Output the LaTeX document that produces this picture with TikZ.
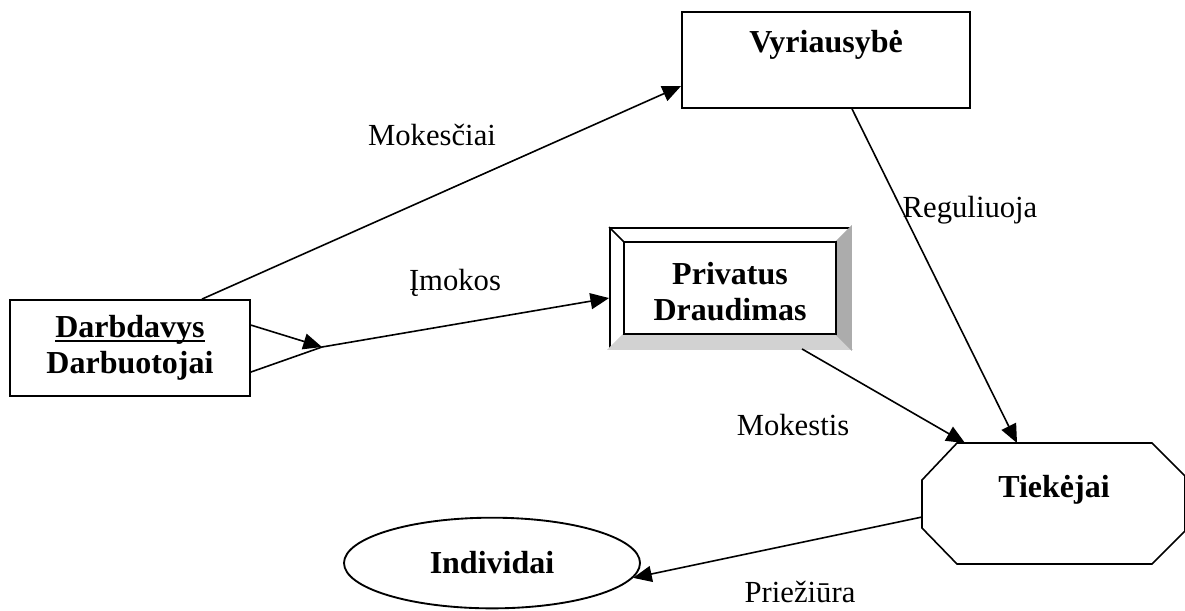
\documentclass[tikz,border=0pt]{standalone}
\usepackage{fontspec}
\setmainfont{Liberation Serif}
\usetikzlibrary{arrows.meta,shapes.geometric}
\newcommand{\ulin}[1]{\setbox0\hbox{#1}\rlap{\rule[-1.7pt]{\wd0}{.8pt}}\box0}
\tikzset{
	box/.style={draw, line width=.7pt, fill=white, align=center, inner sep=3pt,
		font=\fontsize{12}{13.5}\selectfont\bfseries},
	lbl/.style={font=\fontsize{11.5}{13.5}\selectfont, inner sep=0pt},
	arr/.style={line width=.6pt, -{Triangle[length=7pt,width=6pt]}}
}
\begin{document}
\begin{tikzpicture}[x=.375pt,y=-.375pt]
	\useasboundingbox (0,0) rectangle (1185,610);
	% boxes
	\node[box, minimum width=90pt, minimum height=36pt] (emp) at (130,348) {\ulin{Darbdavys}\\Darbuotojai};
	\node[box, minimum width=108pt, minimum height=36pt, text height=12pt, text depth=18pt] (gov) at (826,60) {Vyriausybė};
	\node[box, minimum width=90pt, minimum height=45pt] (ins) at (730,288) {};
	\fill[gray!35, draw, line width=.6pt] (ins.south west) -- ([shift={(5.6pt,5.6pt)}]ins.south west)
		-- ([shift={(-5.6pt,5.6pt)}]ins.south east) -- (ins.south east) -- cycle;
	\fill[gray!65, draw, line width=.6pt] (ins.south east) -- (ins.north east)
		-- ([shift={(-5.6pt,-5.6pt)}]ins.north east) -- ([shift={(-5.6pt,5.6pt)}]ins.south east) -- cycle;
	\draw[line width=.6pt] ([shift={(5.6pt,5.6pt)}]ins.south west) rectangle ([shift={(-5.6pt,-5.6pt)}]ins.north east);
	\draw[line width=.6pt] (ins.north west) -- ([shift={(5.6pt,-5.6pt)}]ins.north west);
	\node[box, draw=none, fill=none] (insText) at (730,292) {Privatus\\Draudimas};
	\node[box, ellipse, minimum width=111pt, minimum height=34pt] (ind) at (492,563) {Individai};
	% octagon
	\draw[line width=.6pt] (957,443) -- (1152,443) -- (1185,476) -- (1185,531) -- (1152,564)
		-- (957,564) -- (922,528) -- (922,480) -- cycle;
	\node[box, draw=none, fill=none] (supp) at (1054,490) {Tiekėjai};
	\coordinate (suppA) at (965,443);
	\coordinate (suppB) at (1017,443);
	\coordinate (suppC) at (922,517);
	\coordinate (join) at (322,347);
	% arrows
	\draw[arr] ([xshift=27pt]emp.north) -- ([yshift=-9.75pt]gov.west);
	\draw[arr] ([yshift=8.6pt]emp.east) -- (join);
	\draw[line width=.6pt] ([yshift=-9pt]emp.east) -- (join);
	\draw[arr] (join) -- ([yshift=-3.75pt]ins.west);
	\draw[arr] ([xshift=27pt]ins.south) -- (suppA);
	\draw[arr] ([xshift=9.75pt]gov.south) -- (suppB);
	\draw[arr] (suppC) -- (ind.-6);
	% labels
	\foreach \n/\x/\y/\t in {tax/432/135/Mokesčiai,
							prem/455/283/Įmokos,
							reg/970/210/Reguliuoja,
							fee/793/425/Mokestis,
							care/800/592/Priežiūra}
		\node[lbl] (\n) at (\x,\y) {\t};
\end{tikzpicture}
\end{document}
